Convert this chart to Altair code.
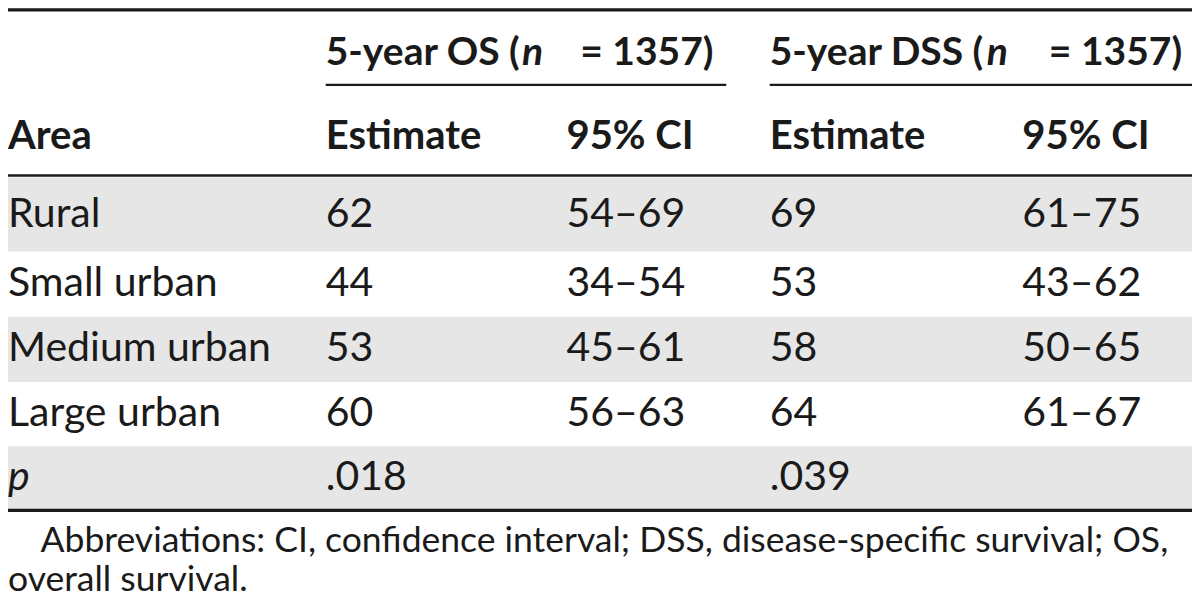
import altair as alt
import pandas as pd

# ---------------- data ----------------
areas = ["Rural", "Small urban", "Medium urban", "Large urban"]
os_estimate = ["62", "44", "53", "60"]
os_ci = ["54–69", "34–54", "45–61", "56–63"]
dss_estimate = ["69", "53", "58", "64"]
dss_ci = ["61–75", "43–62", "50–65", "61–67"]
p_label = "p"
p_values = [".018", ".039"]
group_titles = ["5-year OS (", "5-year DSS ("]
group_n = ["n", "n"]
group_tail = ["= 1357)", "= 1357)"]
sub_headers = ["Area", "Estimate", "95% CI", "Estimate", "95% CI"]
footnote = ["Abbreviations: CI, confidence interval; DSS, disease-specific survival; OS,",
            "overall survival."]

# ---------------- layout (reference pixel space 1200 x 607) ----------------
W, H = 1200, 607
col_x = [0, 322, 566, 772, 1028]
row_y = [213, 283, 350, 417, 483]          # body row centres
row_band = [(174, 250), (250, 317), (317, 384), (384, 450), (450, 516)]
head1_y, head2_y = 46, 132
n_x = [521, 992]
tail_x = [715, 1190]
foot_y = [547, 587]
foot_x = [33, 0]

body_rows = []
for i, a in enumerate(areas):
    for c, v in enumerate([a, os_estimate[i], os_ci[i], dss_estimate[i], dss_ci[i]]):
        body_rows.append({"x": col_x[c], "y": row_y[i], "t": v})
for k, v in enumerate(p_values):
    body_rows.append({"x": col_x[1 + 2 * k], "y": row_y[4], "t": v})
body_df = pd.DataFrame(body_rows)

italic_df = pd.DataFrame([{"x": col_x[0], "y": row_y[4], "t": p_label}])

head2_df = pd.DataFrame([{"x": col_x[c], "y": head2_y, "t": s} for c, s in enumerate(sub_headers)])
head1_df = pd.DataFrame([{"x": col_x[1 + 2 * k], "y": head1_y, "t": group_titles[k]} for k in range(2)])
bolditalic_df = pd.DataFrame([{"x": n_x[k], "y": head1_y, "t": group_n[k]} for k in range(2)])
boldright_df = pd.DataFrame([{"x": tail_x[k], "y": head1_y, "t": group_tail[k]} for k in range(2)])
foot_df = pd.DataFrame([{"x": foot_x[k], "y": foot_y[k], "t": footnote[k]} for k in range(2)])

shade_df = pd.DataFrame([{"x": 0, "x2": W, "y": row_band[i][0], "y2": row_band[i][1]} for i in (0, 2, 4)])
rule_df = pd.DataFrame([
    {"x": 0, "x2": W, "y": 2, "w": 3.2},
    {"x": 322, "x2": 728, "y": 79, "w": 2.2},
    {"x": 772, "x2": W, "y": 79, "w": 2.2},
    {"x": 0, "x2": W, "y": 172, "w": 2.4},
    {"x": 0, "x2": W, "y": 516, "w": 3.2},
])

xs = alt.Scale(domain=[0, W], nice=False, zero=False)
ys = alt.Scale(domain=[0, H], nice=False, zero=False, reverse=True)
X = lambda f="x": alt.X(f"{f}:Q", scale=xs, axis=None)
Y = lambda f="y": alt.Y(f"{f}:Q", scale=ys, axis=None)

INK = "#1a1a1a"
FONT = "Lato"
BODY = 41
HEAD = 39
HEAD2 = 40
FOOT = 35.5

shade = alt.Chart(shade_df).mark_rect(color="#e6e6e6").encode(
    x=X(), x2="x2:Q", y=Y(), y2="y2:Q")
rules = alt.Chart(rule_df).mark_rule(color=INK).encode(
    x=X(), x2="x2:Q", y=Y(), strokeWidth=alt.StrokeWidth("w:Q", scale=None, legend=None))


def txt(df, size, weight="normal", style="normal", align="left"):
    return alt.Chart(df).mark_text(font=FONT, fontSize=size, fontWeight=weight, fontStyle=style,
                                   align=align, baseline="middle", color=INK).encode(
        x=X(), y=Y(), text="t:N")


chart = alt.layer(
    shade, rules,
    txt(body_df, BODY),
    txt(italic_df, BODY, style="italic"),
    txt(head2_df, HEAD2, weight="bold"),
    txt(head1_df, HEAD, weight="bold"),
    txt(bolditalic_df, HEAD, weight="bold", style="italic"),
    txt(boldright_df, HEAD, weight="bold", align="right"),
    txt(foot_df, FOOT),
).properties(
    width=1184, height=591, padding=0,
    autosize=alt.AutoSizeParams(type="none"),
).configure_view(stroke=None)

chart.save("out.html", embed_options={"renderer": "svg", "actions": False})
